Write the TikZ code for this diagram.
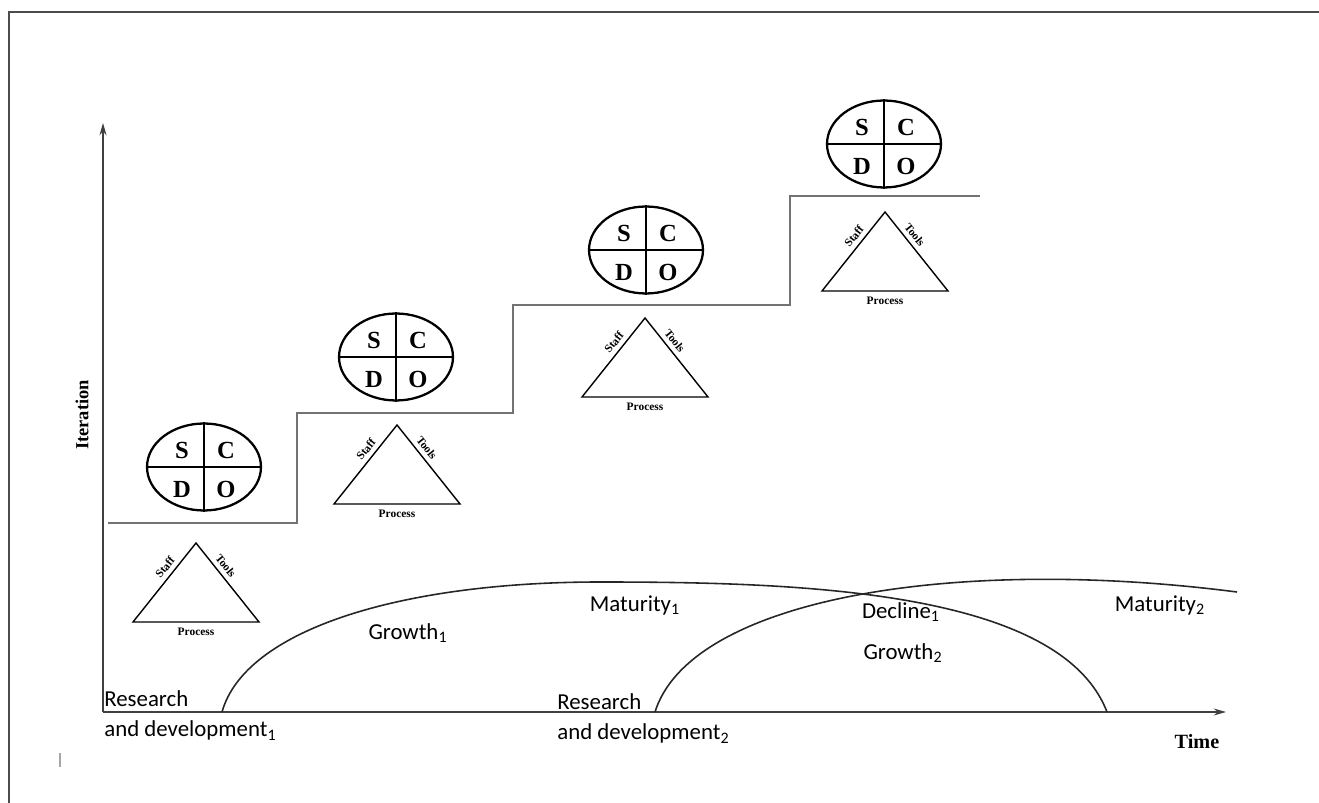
\documentclass[tikz,border=0pt]{standalone}
\usepackage{fontspec}
\setmainfont{Liberation Serif}
\newfontfamily\stagefont{Carlito}
\usetikzlibrary{arrows.meta, shapes.geometric, positioning}

\begin{document}
\begin{tikzpicture}[
    x=0.02cm, y=-0.02cm, % one unit = one pixel of the reference, y downwards
    frame/.style={black!70, line width=0.9pt},
    axis/.style={-{Stealth[length=7pt, width=4pt]}, black!75, line width=0.8pt},
    stair/.style={black!55, line width=1pt},
    cycle_curve/.style={black!85, line width=0.9pt},
    scdo/.style={ellipse, draw, line width=1.3pt, minimum width=2.28cm, minimum height=1.74cm, inner sep=0pt},
    letter/.style={font=\bfseries\fontsize{14}{14}\selectfont, inner sep=0pt},
    triad/.style={black, line width=0.8pt},
    side_label/.style={font=\bfseries\fontsize{6.5}{7}\selectfont, sloped, above, inner sep=2.5pt},
    proc_label/.style={font=\bfseries\fontsize{6.5}{7}\selectfont, below, inner sep=3pt},
    stage/.style={font=\stagefont\fontsize{13}{17.5}\selectfont, align=left, inner sep=0pt},
    axis_label/.style={font=\bfseries\fontsize{10.5}{11}\selectfont}
]

% Page size and outer frame
\useasboundingbox (0,0) rectangle (1319,803);
\draw[frame] (9,803) -- (9,12) -- (1319,12);
\draw[black!35, line width=0.6pt] (60,753) -- (60,767); % stray tick

% Axes
\coordinate (o) at (103,712);
\coordinate (ytop) at (103,123);
\coordinate (xend) at (1226,712);
\draw[axis] (o) -- (ytop);
\draw[axis] (o) -- (xend);
\node[axis_label, rotate=90] (iter) at (82,415) {Iteration};
\node[axis_label, font=\bfseries\fontsize{11.5}{12}\selectfont] (time) at (1197,742) {Time};

% Staircase of iterations
\draw[stair] (108,523) -- (297,523) -- (297,413) -- (513,413) -- (513,305)
    -- (790,305) -- (790,196) -- (980,196);

% SCDO ellipse and Staff/Tools/Process triangle on every step
\foreach \i/\ex/\ey/\tx/\ty in {1/204/467/196/543, 2/396/357/397/425,
                               3/646/250/645/318, 4/884/144/885/212}{
    \node[scdo] (e\i) at (\ex,\ey) {};
    \draw[line width=1.3pt] (e\i.north) -- (e\i.south);
    \draw[line width=1.3pt] (e\i.west) -- (e\i.east);
    \node[letter] (s\i) at (\ex-22,\ey-17) {S};
    \node[letter] (c\i) at (\ex+22,\ey-17) {C};
    \node[letter] (d\i) at (\ex-22,\ey+22) {D};
    \node[letter] (o\i) at (\ex+22,\ey+22) {O};
    \coordinate (top\i) at (\tx,\ty);
    \coordinate (bl\i) at (\tx-63,\ty+79);
    \coordinate (br\i) at (\tx+63,\ty+79);
    \draw[triad] (bl\i) -- node[side_label, pos=0.62] (staff\i) {Staff} (top\i)
        -- node[side_label, pos=0.36] (tools\i) {Tools} (br\i)
        -- node[proc_label] (proc\i) {Process} (bl\i) -- cycle;
}

% Life cycles
\draw[cycle_curve] (222,712) .. controls (245,630) and (400,582) .. (600,582)
    .. controls (800,582) and (1060,590) .. (1107,712);
\draw[cycle_curve] (655,712) .. controls (690,600) and (950,555) .. (1237,592);

% Stage labels
\node[stage] (grow1) at (408,633) {Growth\textsubscript{1}};
\node[stage] (mat1) at (635,605) {Maturity\textsubscript{1}};
\node[stage] (dec1) at (901,612) {Decline\textsubscript{1}};
\node[stage] (grow2) at (903,653) {Growth\textsubscript{2}};
\node[stage] (mat2) at (1160,605) {Maturity\textsubscript{2}};
\node[stage, anchor=north west] (rd1) at (104,690) {Research\\and development\textsubscript{1}};
\node[stage, anchor=north west] (rd2) at (557,693) {Research\\and development\textsubscript{2}};

\end{tikzpicture}
\end{document}
